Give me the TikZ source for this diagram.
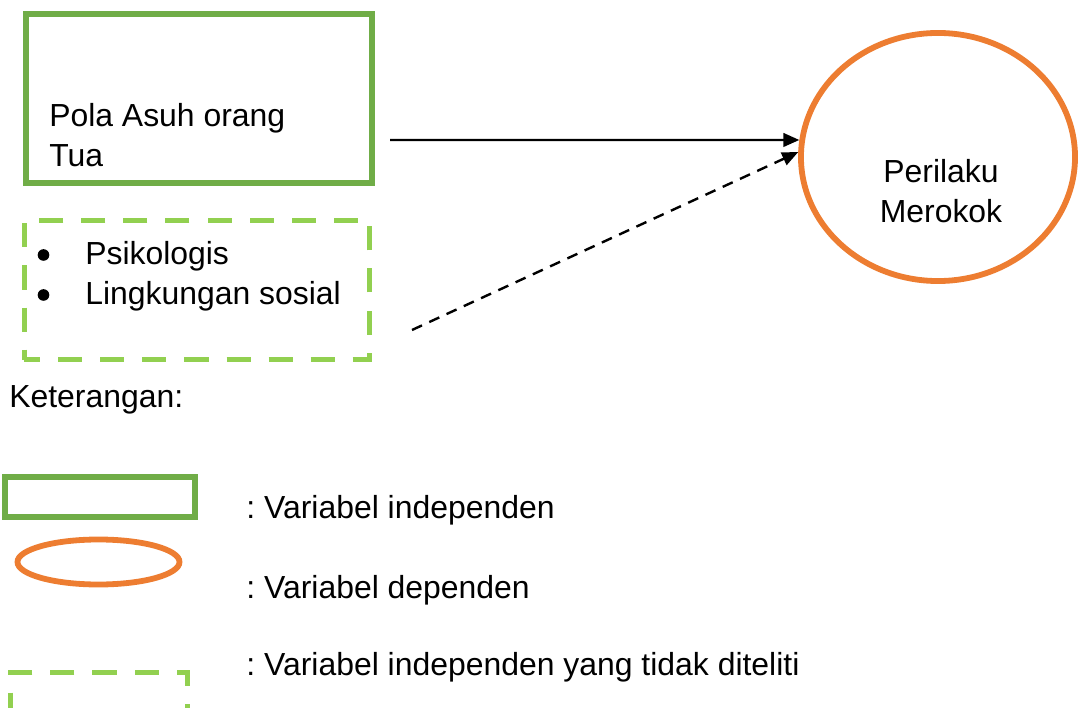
\documentclass[tikz,border=0pt]{standalone}
\usepackage{fontspec}
\setmainfont{Liberation Sans}
\usepackage{xcolor}
\usetikzlibrary{arrows.meta,shapes.geometric}
\definecolor{hijau}{HTML}{70AD47}
\definecolor{hijaumuda}{HTML}{92D050}
\definecolor{oranye}{HTML}{ED7D31}

\begin{document}
\begin{tikzpicture}[x=0.025cm,y=-0.025cm,>={Triangle[length=0.4cm,width=0.34cm]},line join=miter,
  teks/.style={font=\fontsize{22.7}{29}\selectfont,inner sep=0pt,anchor=base west,align=left},
  kotak/.style={draw=hijau,line width=0.15cm,rectangle,inner sep=0pt},
  kotakputus/.style={draw=hijaumuda,line width=0.125cm,rectangle,inner sep=0pt,dash pattern=on 0.6cm off 0.45cm,dash phase=0.2cm},
  lonjong/.style={draw=oranye,line width=0.145cm,ellipse,inner sep=0pt},
  panah/.style={->,line width=0.06cm}]
  \useasboundingbox (0,0) rectangle (1080,708);
  % kerangka konsep
  \node[kotak,minimum width=8.65cm,minimum height=4.225cm] (pola) at (199,98.5) {};
  \node[teks] (polateks) at (49,167) {Pola Asuh orang\\Tua};
  \node[kotakputus,minimum width=8.625cm,minimum height=3.475cm] (faktor) at (197,290) {};
  \node[teks] (faktorteks) at (85,305) {Psikologis\\Lingkungan sosial};
  \fill (43.5,255) circle (0.145cm);
  \fill (43.5,295) circle (0.145cm);
  \node[lonjong,minimum width=6.85cm,minimum height=6.2cm] (perilaku) at (938,157) {};
  \node[teks,anchor=base,align=center] (perilakuteks) at (941,223) {Perilaku\\Merokok};
  \coordinate (awal1) at (390,140);
  \coordinate (awal2) at (412,330);
  \draw[panah] (awal1) -- (perilaku.173);
  \draw[panah,dash pattern=on 0.275cm off 0.2cm] (awal2) -- (perilaku.178);
  % keterangan
  \node[teks] (ket) at (9,407) {Keterangan:};
  \node[kotak,minimum width=4.75cm,minimum height=1cm] (lgkotak) at (100,497) {};
  \node[lonjong,minimum width=4.05cm,minimum height=1.125cm] (lglonjong) at (98.5,562) {};
  \node[kotakputus,minimum width=4.425cm,minimum height=2cm,anchor=north] (lgputus) at (99,670) {};
  \node[teks] (lgteks1) at (246,518) {:\hspace{-2pt} Variabel independen};
  \node[teks] (lgteks2) at (246,598) {:\hspace{-2pt} Variabel dependen};
  \node[teks] (lgteks3) at (246,675) {:\hspace{-2pt} Variabel independen yang tidak diteliti};
\end{tikzpicture}
\end{document}
